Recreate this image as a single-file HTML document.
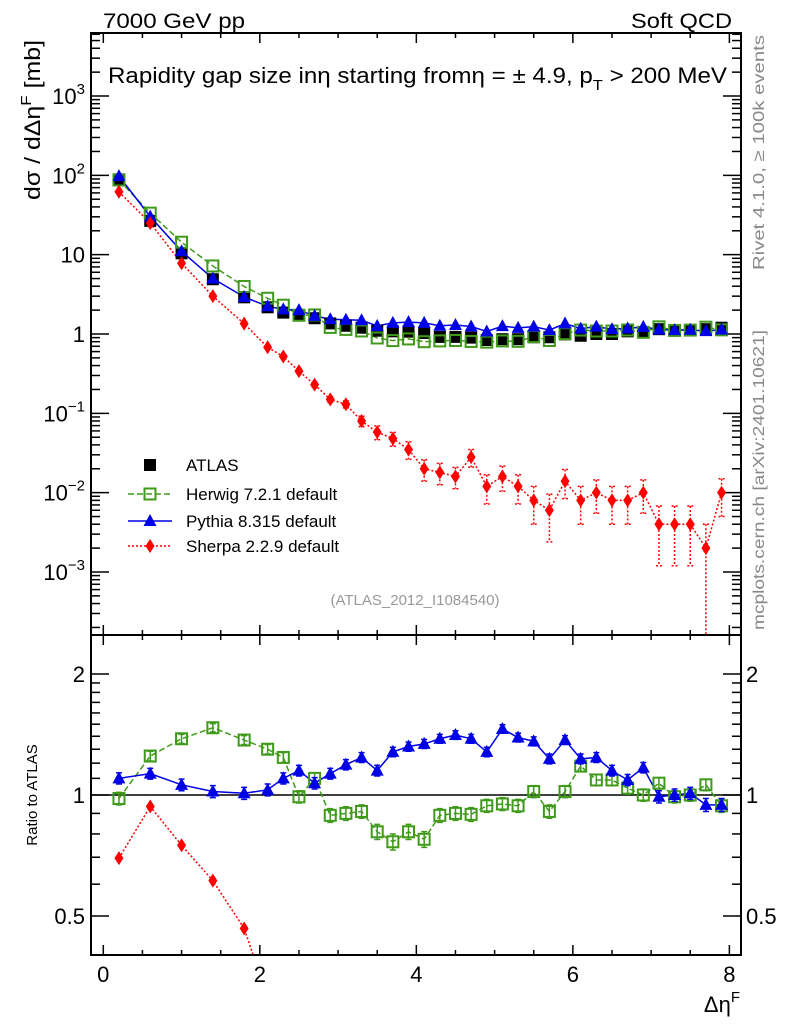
<!DOCTYPE html>
<html><head><meta charset="utf-8"><style>
html,body{margin:0;padding:0;background:#fff;overflow:hidden;width:786px;height:1024px;}
svg{display:block;font-family:"Liberation Sans",Arial,sans-serif;}
</style></head><body>
<svg id="chart" width="786" height="1024" viewBox="0 0 786 1024" xmlns="http://www.w3.org/2000/svg">
<defs>
<clipPath id="cm"><rect x="91" y="33" width="650" height="602"/></clipPath>
<clipPath id="cr"><rect x="91" y="635" width="650" height="320"/></clipPath>
</defs>
<text x="103" y="28" font-size="21" textLength="142" lengthAdjust="spacingAndGlyphs">7000 GeV pp</text>
<text x="631" y="28" font-size="21" textLength="101" lengthAdjust="spacingAndGlyphs">Soft QCD</text>
<text x="108" y="83" font-size="22" textLength="619" lengthAdjust="spacingAndGlyphs">Rapidity gap size in&#951; starting from&#951; = &#177; 4.9, p<tspan font-size="15" dy="7">T</tspan><tspan dy="-7"> &gt; 200 MeV</tspan></text>
<text transform="translate(40,200) rotate(-90)" font-size="22" textLength="160" lengthAdjust="spacingAndGlyphs">d&#963; / d&#916;&#951;<tspan font-size="15" dy="-9">F</tspan><tspan dy="9"> [mb]</tspan></text>
<text transform="translate(37,795) rotate(-90)" font-size="15" text-anchor="middle">Ratio to ATLAS</text>
<text x="740" y="1012" font-size="22" text-anchor="end">&#916;&#951;<tspan font-size="15" dy="-10">F</tspan></text>
<text transform="translate(764,270) rotate(-90)" font-size="16" fill="#888" textLength="235" lengthAdjust="spacingAndGlyphs">Rivet 4.1.0, &#8805; 100k events</text>
<text transform="translate(764,630) rotate(-90)" font-size="16" fill="#888" textLength="300" lengthAdjust="spacingAndGlyphs">mcplots.cern.ch [arXiv:2401.10621]</text>
<text x="415" y="605" font-size="15" fill="#999" text-anchor="middle">(ATLAS_2012_I1084540)</text>
<g id="axes"></g>
<g id="mainMarks" clip-path="url(#cm)"></g>
<g id="ratioMarks" clip-path="url(#cr)"></g>
<g id="legend"></g>
<rect x="91" y="33" width="650" height="602" fill="none" stroke="#000" stroke-width="2"/>
<rect x="91" y="635" width="650" height="320" fill="none" stroke="#000" stroke-width="2"/>
</svg>
<script>
const xs=[0.2,0.6,1.0,1.4,1.8,2.1,2.3,2.5,2.7,2.9,3.1,3.3,3.5,3.7,3.9,4.1,4.3,4.5,4.7,4.9,5.1,5.3,5.5,5.7,5.9,6.1,6.3,6.5,6.7,6.9,7.1,7.3,7.5,7.7,7.9];
const atlas=[89,26.7,10.4,4.9,2.9,2.17,1.86,1.74,1.58,1.36,1.27,1.2,1.1,1.08,1.07,1.03,0.92,0.92,0.9,0.84,0.86,0.86,0.91,0.91,0.99,0.95,1.0,1.0,1.08,1.05,1.15,1.12,1.12,1.15,1.2];
const herwigRatio=[0.98,1.25,1.38,1.47,1.37,1.30,1.24,0.99,1.10,0.89,0.90,0.91,0.81,0.765,0.81,0.776,0.89,0.90,0.895,0.94,0.95,0.94,1.02,0.91,1.02,1.18,1.09,1.09,1.04,1.0,1.07,0.99,1.0,1.06,0.94];
const pythiaRatio=[1.10,1.13,1.06,1.02,1.01,1.03,1.10,1.15,1.07,1.13,1.19,1.24,1.15,1.28,1.32,1.34,1.38,1.41,1.38,1.28,1.46,1.39,1.36,1.23,1.37,1.23,1.24,1.15,1.09,1.17,0.99,1.0,1.01,0.945,0.945];
const sherpa=[62,25,7.8,3.0,1.35,0.68,0.52,0.34,0.23,0.15,0.13,0.08,0.058,0.048,0.035,0.02,0.018,0.016,0.028,0.012,0.016,0.012,0.008,0.006,0.014,0.008,0.01,0.008,0.008,0.01,0.004,0.004,0.004,0.002,0.01];
const sherpaRelErr=[0.03,0.03,0.03,0.03,0.03,0.04,0.05,0.06,0.07,0.08,0.1,0.15,0.2,0.2,0.25,0.3,0.3,0.3,0.25,0.4,0.35,0.4,0.5,0.6,0.4,0.5,0.45,0.5,0.5,0.45,0.7,0.7,0.7,1.0,0.5];
const mcRatioErr=0.035;
const xTicks=[0,2,4,6,8];
const mainTickExp=[-3,-2,-1,0,1,2,3];
const ratioTicks=[0.5,1,2];

const NS='http://www.w3.org/2000/svg';
const X=v=>103.3+78.26*v;
const Ym=v=>334-79.33*Math.log10(v);
const Yr=r=>795-121*Math.log2(r);
function mk(parent,tag,attrs){const e=document.createElementNS(NS,tag);for(const k in attrs)e.setAttribute(k,attrs[k]);parent.appendChild(e);return e;}
const axes=document.getElementById('axes');
const gm=document.getElementById('mainMarks');
const gr=document.getElementById('ratioMarks');
const lg=document.getElementById('legend');

for(let t=0;t<=8.001;t+=0.5){
  const major=Math.abs(t-Math.round(t/2)*2)<1e-6;
  const L=major?10:5;
  [[955,-1],[635,-1],[635,1],[33,1]].forEach(([y,d])=>{
    const e=mk(axes,'line',{x1:X(t),x2:X(t),y1:y,y2:y+d*L,stroke:'#000','stroke-width':1.5});
    
    
  });
}
xTicks.forEach(t=>{
  const e=mk(axes,'text',{x:X(t),y:982,'font-size':22,'text-anchor':'middle'});
  e.textContent=t;
  
  
});
for(let ex=-4;ex<=3;ex++){
  for(let m=1;m<=9;m++){
    const v=m*Math.pow(10,ex);const y=Ym(v);
    if(y<34||y>634)continue;
    const L=m===1?18:9;
    [[91,1],[741,-1]].forEach(([x,d])=>{
      const e=mk(axes,'line',{x1:x,x2:x+d*L,y1:y,y2:y,stroke:'#000','stroke-width':1.5});
      
      
    });
  }
}
mainTickExp.forEach(ex=>{
  const e=mk(axes,'text',{x:85,y:Ym(Math.pow(10,ex))+8,'font-size':22,'text-anchor':'end'});
  if(ex===0)e.textContent='1';
  else if(ex===1)e.textContent='10';
  else{e.textContent='10';const s=mk(e,'tspan',{dy:-10,'font-size':15});s.textContent=String(ex).replace('-','\u2212');}
  
  
});
[0.4,0.5,0.6,0.7,0.8,0.9,1,1.1,1.2,1.3,1.4,1.5,1.6,1.7,1.8,1.9,2].forEach(r=>{
  const y=Yr(r);if(y<636||y>954)return;
  const major=ratioTicks.includes(r);const L=major?18:9;
  [[91,1],[741,-1]].forEach(([x,d])=>{
    const e=mk(axes,'line',{x1:x,x2:x+d*L,y1:y,y2:y,stroke:'#000','stroke-width':1.5});
    
    
  });
});
ratioTicks.forEach(r=>{
  [[85,'end'],[746,'start']].forEach(([x,a])=>{
    const e=mk(axes,'text',{x:x,y:Yr(r)+8,'font-size':22,'text-anchor':a});
    e.textContent=r;
    
    
  });
});
const ref=mk(gr,'line',{x1:91,x2:741,y1:Yr(1),y2:Yr(1),stroke:'#000','stroke-width':1.5});



function marker(g,type,x,y,col,name){
  let e;
  if(type==='sq') e=mk(g,'rect',{x:x-6,y:y-6,width:12,height:12,fill:'#000'});
  else if(type==='osq') e=mk(g,'rect',{x:x-5.5,y:y-5.5,width:11,height:11,fill:'none',stroke:col,'stroke-width':2});
  else if(type==='tri') e=mk(g,'polygon',{points:`${x},${y-7} ${x+6.5},${y+5} ${x-6.5},${y+5}`,fill:col});
  else e=mk(g,'polygon',{points:`${x},${y-7} ${x+4.5},${y} ${x},${y+7} ${x-4.5},${y}`,fill:col});
  
  
  return e;
}
function errbar(g,x,y1,y2,col,dash,name){
  const e=mk(g,'path',{d:`M${x},${y1}V${y2}M${x-3},${y1}H${x+3}M${x-3},${y2}H${x+3}`,stroke:col,'stroke-width':1.5,fill:'none'});
  if(dash)e.setAttribute('stroke-dasharray',dash);
  
  
}
function line(g,pts,col,dash,name){
  const e=mk(g,'polyline',{points:pts.map(p=>p.join(',')).join(' '),fill:'none',stroke:col,'stroke-width':1.5});
  if(dash)e.setAttribute('stroke-dasharray',dash);
  
  
}
const HC='#3f9a1a',PC='#0000e6',SC='#ff0000';
const herwig=xs.map((x,i)=>atlas[i]*herwigRatio[i]);
const pythia=xs.map((x,i)=>atlas[i]*pythiaRatio[i]);
const sherpaRatio=xs.map((x,i)=>sherpa[i]/atlas[i]);

line(gm,xs.map((x,i)=>[X(x),Ym(sherpa[i])]),SC,'2,2','sherpa-line');
line(gm,xs.map((x,i)=>[X(x),Ym(herwig[i])]),HC,'6,3','herwig-line');
line(gm,xs.map((x,i)=>[X(x),Ym(pythia[i])]),PC,null,'pythia-line');
xs.forEach((x,i)=>marker(gm,'sq',X(x),Ym(atlas[i]),'#000','atlas-point'));
xs.forEach((x,i)=>marker(gm,'osq',X(x),Ym(herwig[i]),HC,'herwig-point'));
xs.forEach((x,i)=>marker(gm,'tri',X(x),Ym(pythia[i]),PC,'pythia-point'));
xs.forEach((x,i)=>{
  const lo=Math.max(sherpa[i]*(1-sherpaRelErr[i]),1e-5);
  errbar(gm,X(x),Ym(sherpa[i]*(1+sherpaRelErr[i])),Ym(lo),SC,'2,2','sherpa-error-bar');
  marker(gm,'dia',X(x),Ym(sherpa[i]),SC,'sherpa-point');
});
line(gr,xs.map((x,i)=>[X(x),Yr(sherpaRatio[i])]),SC,'2,2','sherpa-ratio-line');
line(gr,xs.map((x,i)=>[X(x),Yr(herwigRatio[i])]),HC,'6,3','herwig-ratio-line');
line(gr,xs.map((x,i)=>[X(x),Yr(pythiaRatio[i])]),PC,null,'pythia-ratio-line');
xs.forEach((x,i)=>{
  errbar(gr,X(x),Yr(herwigRatio[i]+mcRatioErr),Yr(herwigRatio[i]-mcRatioErr),HC,null,'herwig-ratio-error');
  marker(gr,'osq',X(x),Yr(herwigRatio[i]),HC,'herwig-ratio-point');
});
xs.forEach((x,i)=>{
  errbar(gr,X(x),Yr(pythiaRatio[i]+mcRatioErr),Yr(pythiaRatio[i]-mcRatioErr),PC,null,'pythia-ratio-error');
  marker(gr,'tri',X(x),Yr(pythiaRatio[i]),PC,'pythia-ratio-point');
});
xs.forEach((x,i)=>marker(gr,'dia',X(x),Yr(sherpaRatio[i]),SC,'sherpa-ratio-point'));

const entries=[['ATLAS','sq','#000',null,465],['Herwig 7.2.1 default','osq',HC,'6,3',494],['Pythia 8.315 default','tri',PC,null,521],['Sherpa 2.2.9 default','dia',SC,'2,2',546]];
entries.forEach(([lab,type,col,dash,y])=>{
  const g=mk(lg,'g',{});
  
  
  if(type!=='sq'){
    const l=mk(g,'line',{x1:128,x2:172,y1:y,y2:y,stroke:col,'stroke-width':1.5});
    if(dash)l.setAttribute('stroke-dasharray',dash);
    
    
  }
  marker(g,type,150,y,col,'legend-marker');
  const t=mk(g,'text',{x:186,y:y+6,'font-size':17});
  t.textContent=lab;
  
  
});
</script>
</body></html>
